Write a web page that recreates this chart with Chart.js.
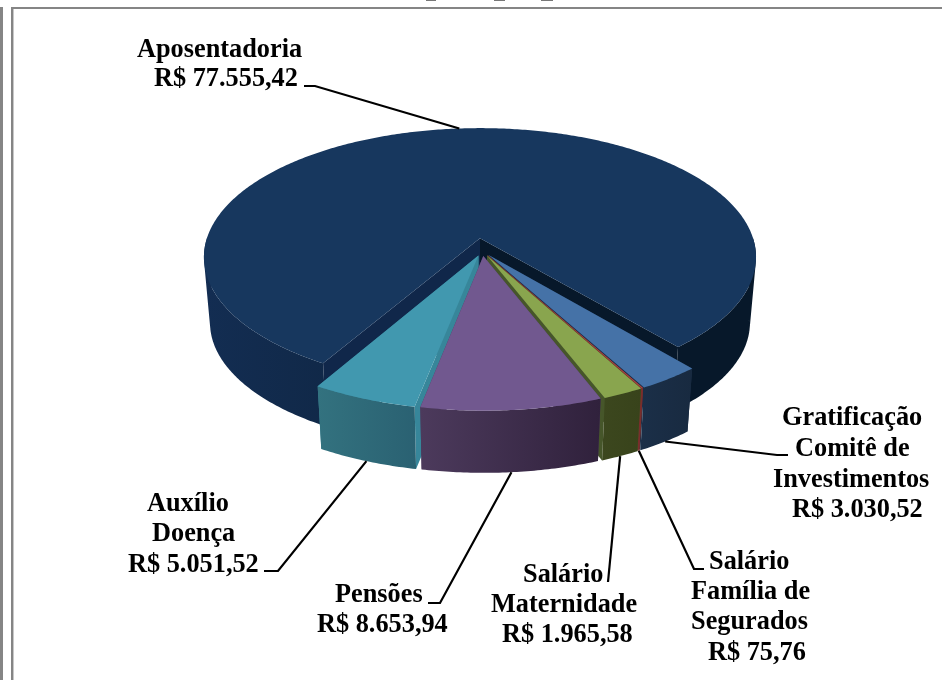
<!DOCTYPE html>
<html lang="pt-BR">
<head>
<meta charset="utf-8">
<title>Despesas previdenciárias</title>
<script src="https://cdn.jsdelivr.net/npm/chart.js@4"></script>
<style>
html,body{margin:0;padding:0;background:#fff;width:942px;height:680px;overflow:hidden}
#stage{position:relative;width:942px;height:680px}
canvas{position:absolute;left:0;top:0}
.r{position:absolute;background:#858585}
</style>
</head>
<body>
<div id="stage">
<div class="r" style="left:0;top:7px;width:3px;height:673px"></div>
<div class="r" style="left:11px;top:7px;width:931px;height:2px"></div>
<div class="r" style="left:11px;top:7px;width:2px;height:673px"></div>
<div class="r" style="left:13px;top:9px;width:1px;height:671px;background:#c8c8c8"></div>
<div class="r" style="left:426px;top:0;width:10px;height:1px;background:#777"></div>
<div class="r" style="left:494px;top:0;width:11px;height:1px;background:#777"></div>
<div class="r" style="left:541px;top:0;width:12px;height:1px;background:#777"></div>
<canvas id="chart" width="942" height="680"></canvas>
</div>
<script>
// ---- data ----
const categories = ["Aposentadoria", "Gratificação Comitê de Investimentos", "Salário Família de Segurados", "Salário Maternidade", "Pensões", "Auxílio Doença"];
const values = [77555.42, 3030.52, 75.76, 1965.58, 8653.94, 5051.52];
const explode = [112, 45, 45, 45, 45, 45];
const topColors = ["#17375E", "#4572A7", "#AA4643", "#89A54E", "#71588F", "#4198AF"];
const wallLeft = ["#132D52", "#1B2F48", "#7A2E2C", "#3C471E", "#4C3A5C", "#33727F"];
const wallRight = ["#07182A", "#182A40", "#7A2E2C", "#38431B", "#30213C", "#2A6172"];
const faceColors = [["#10274A", "#07182A"], ["#1B2F48", "#1B2F48"], ["#7A2E2C", "#7A2E2C"], ["#46562A", "#46562A"], ["#4C3A5C", "#4C3A5C"], ["#37869A", "#37869A"]];
const paintOrder = [0, 1, 2, 3, 5, 4];

// ---- label layout: [text, left x, baseline y] ----
const labelLines = [
  [["Aposentadoria", 137, 57], ["R$ 77.555,42", 154, 86]],
  [["Gratificação", 782, 425], ["Comitê de", 795, 456], ["Investimentos", 773, 487], ["R$ 3.030,52", 792, 517]],
  [["Salário", 709, 569], ["Família de", 691, 599], ["Segurados", 691, 629], ["R$ 75,76", 708, 660]],
  [["Salário", 523, 582], ["Maternidade", 491, 612], ["R$ 1.965,58", 502, 642]],
  [["Pensões", 335, 602], ["R$ 8.653,94", 317, 632]],
  [["Auxílio", 147, 511], ["Doença", 152, 541], ["R$ 5.051,52", 128, 572]]
];
const leaderElbows = [
  [[315, 86], [304, 86]],
  [[777, 455], [788, 455]],
  [[694, 569], [704, 569]],
  [[608, 582]],
  [[440, 603], [428, 603]],
  [[278, 571], [264, 571]]
];

// ---- view of the tilted pie plane ----
const view = {cx: 480, cy: 238, rx: 273, ry: 126.2, persp: 0.147, originU: 0.0085, originV: 0.0996, depth: 66, shrink: 0.978};
const project = (u, v, low) => {
  const w = 1 / (1 - view.persp * v);
  let x = view.cx + view.rx * u * w;
  let y = view.cy + view.ry * v * w;
  if (low) {
    x = view.cx + (x - view.cx) * view.shrink;
    y = view.cy + (y - view.cy) * view.shrink + view.depth;
  }
  return [x, y];
};

const pie3d = {
  id: 'pie3d',
  beforeDatasetDraw(chart) {
    const ctx = chart.ctx;
    const arcs = chart.getDatasetMeta(0).data;
    const geo = arcs.map(el => {
      const mid = (el.startAngle + el.endAngle) / 2;
      const e = (el.options.offset / 4) / el.outerRadius;
      return {
        a0: el.startAngle, a1: el.endAngle, mid,
        cu: view.originU + e * Math.cos(mid),
        cv: view.originV + e * Math.sin(mid)
      };
    });
    const rim = (g, a, low) => project(g.cu + Math.cos(a), g.cv + Math.sin(a), low);
    const trace = pts => {
      pts.forEach((p, i) => i ? ctx.lineTo(p[0], p[1]) : ctx.moveTo(p[0], p[1]));
      ctx.closePath();
    };
    const poly = (pts, fill) => {
      ctx.beginPath();
      trace(pts);
      ctx.fillStyle = fill;
      ctx.fill();
    };
    paintOrder.forEach(i => {
      const g = geo[i];
      const n = Math.max(4, Math.ceil((g.a1 - g.a0) * 90));
      const upper = [], lower = [], angles = [];
      for (let k = 0; k <= n; k++) {
        const a = g.a0 + (g.a1 - g.a0) * k / n;
        angles.push(a);
        upper.push(rim(g, a, false));
        lower.push(rim(g, a, true));
      }
      const xs = upper.concat(lower).map(p => p[0]);
      const grad = ctx.createLinearGradient(Math.min(...xs), 0, Math.max(...xs), 0);
      grad.addColorStop(0, wallLeft[i]);
      if (i === 0) {
        grad.addColorStop(0.25, "#102847");
        grad.addColorStop(0.5, "#0C2138");
        grad.addColorStop(0.6, "#07182A");
      }
      grad.addColorStop(1, wallRight[i]);
      const apexT = project(g.cu, g.cv, false), apexB = project(g.cu, g.cv, true);
      // radial faces, then the front-facing outer wall, then the top surface
      poly([apexT, upper[0], lower[0], apexB], faceColors[i][0]);
      poly([apexT, upper[n], lower[n], apexB], faceColors[i][1]);
      ctx.beginPath();
      for (let k = 0; k < n; k++) {
        if (Math.sin(angles[k]) < 0 && Math.sin(angles[k + 1]) < 0) continue;
        const q = [upper[k], upper[k + 1], lower[k + 1], lower[k]];
        const area = q.reduce((s, p, j) => s + p[0] * q[(j + 1) % 4][1] - q[(j + 1) % 4][0] * p[1], 0);
        trace(area < 0 ? q.reverse() : q);
      }
      ctx.fillStyle = grad;
      ctx.fill();
      poly([apexT].concat(upper), topColors[i]);
    });
    // leaders and labels
    ctx.strokeStyle = "#000";
    ctx.lineWidth = 2.2;
    ctx.lineJoin = "miter";
    geo.forEach((g, i) => {
      const start = rim(g, g.mid, i !== 0);
      ctx.beginPath();
      ctx.moveTo(start[0], start[1]);
      leaderElbows[i].forEach(p => ctx.lineTo(p[0], p[1]));
      ctx.stroke();
    });
    ctx.fillStyle = "#000";
    ctx.font = 'bold 26.3px "Liberation Serif"';
    ctx.textBaseline = "alphabetic";
    ctx.textAlign = "left";
    labelLines.forEach(lines => lines.forEach(l => ctx.fillText(l[0], l[1], l[2])));
    return false;
  }
};

new Chart(document.getElementById('chart'), {
  type: 'pie',
  data: {
    labels: categories,
    datasets: [{data: values, backgroundColor: topColors, offset: explode, borderWidth: 0}]
  },
  options: {
    responsive: false,
    animation: false,
    rotation: 210.1,
    layout: {padding: 0},
    plugins: {legend: {display: false}, tooltip: {enabled: false}, title: {display: false}}
  },
  plugins: [pie3d]
});
</script>
</body>
</html>
